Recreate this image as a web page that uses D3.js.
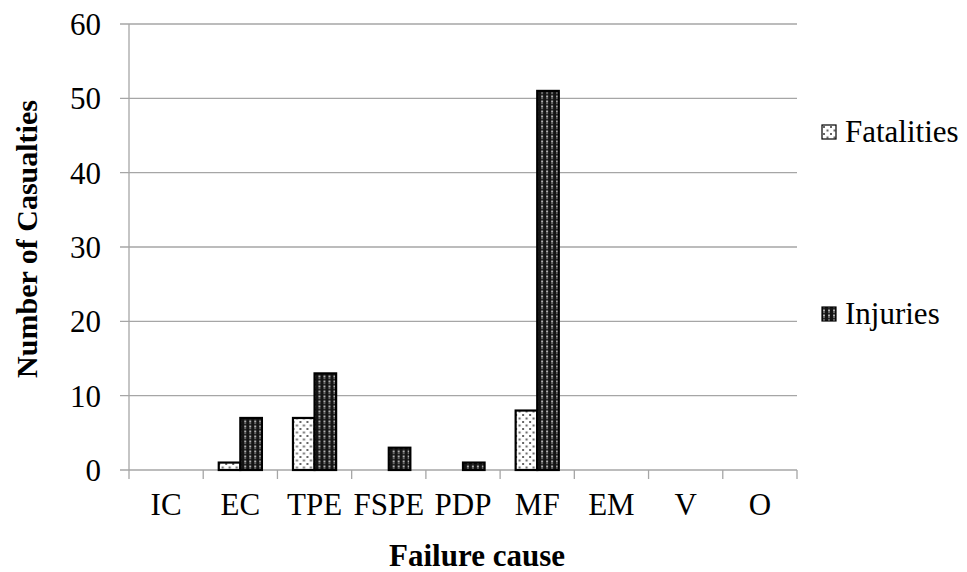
<!DOCTYPE html>
<html lang="en">
<head>
<meta charset="UTF-8">
<title>Casualties by failure cause</title>
<script src="https://d3js.org/d3.v7.min.js"></script>
<style>
    body { margin: 0; background: #fff; }
    svg text { font-family: "Liberation Serif", "Times New Roman", serif; fill: #000; }
    .tick-label { font-size: 31px; }
    .axis-title { font-weight: bold; }
    .grid { stroke: #a6a6a6; stroke-width: 1.3px; }
</style>
</head>
<body>
<svg width="967" height="572"></svg>
<script>
    const categories = ["IC", "EC", "TPE", "FSPE", "PDP", "MF", "EM", "V", "O"];
    const seriesNames = ["Fatalities", "Injuries"];
    const fatalities = [0, 1, 7, 0, 0, 8, 0, 0, 0];
    const injuries = [0, 7, 13, 3, 1, 51, 0, 0, 0];
    const yTicks = [0, 10, 20, 30, 40, 50, 60];

    const svg = d3.select("svg");
    const plotLeft = 129, plotRight = 797, plotTop = 24, plotBottom = 470;

    // patterns
    const defs = svg.append("defs");
    const pf = defs.append("pattern").attr("id", "pat-fat")
        .attr("patternUnits", "userSpaceOnUse").attr("width", 7).attr("height", 7);
    pf.append("rect").attr("width", 7).attr("height", 7).attr("fill", "#fff");
    pf.append("rect").attr("x", 1).attr("y", 1).attr("width", 2).attr("height", 2).attr("fill", "#666");
    pf.append("rect").attr("x", 4.5).attr("y", 4.5).attr("width", 2).attr("height", 2).attr("fill", "#666");

    const pi = defs.append("pattern").attr("id", "pat-inj")
        .attr("patternUnits", "userSpaceOnUse").attr("width", 5).attr("height", 5);
    pi.append("rect").attr("width", 5).attr("height", 5).attr("fill", "#141414");
    pi.append("rect").attr("x", 1).attr("y", 0.5).attr("width", 2).attr("height", 2).attr("fill", "#b0b0b0");
    pi.append("rect").attr("x", 1).attr("y", 3).attr("width", 2).attr("height", 1.2).attr("fill", "#666");

    const x0 = d3.scaleBand().domain(categories).range([plotLeft, plotRight]).padding(0);
    const x1 = d3.scaleBand().domain(seriesNames).range([0, x0.bandwidth()])
        .paddingInner(0).paddingOuter(0.72);
    const y = d3.scaleLinear().domain([0, 60]).range([plotBottom, plotTop]);

    // gridlines
    svg.append("g").selectAll("line").data(yTicks).join("line")
        .attr("class", "grid")
        .attr("x1", plotLeft - 9).attr("x2", plotRight)
        .attr("y1", d => y(d)).attr("y2", d => y(d));

    // y axis line
    svg.append("line").attr("class", "grid")
        .attr("x1", plotLeft).attr("x2", plotLeft).attr("y1", plotTop).attr("y2", plotBottom);

    // x axis ticks at band boundaries
    const bounds = categories.map(c => x0(c)).concat([plotRight]);
    svg.append("g").selectAll("line").data(bounds).join("line")
        .attr("class", "grid")
        .attr("x1", d => d).attr("x2", d => d)
        .attr("y1", plotBottom).attr("y2", plotBottom + 9);

    // y tick labels
    svg.append("g").selectAll("text").data(yTicks).join("text")
        .attr("class", "tick-label")
        .attr("x", 101).attr("y", d => y(d) + 11)
        .attr("text-anchor", "end")
        .text(d => d);

    // x tick labels
    svg.append("g").selectAll("text").data(categories).join("text")
        .attr("class", "tick-label")
        .attr("x", d => x0(d) + x0.bandwidth() / 2).attr("y", 515)
        .attr("text-anchor", "middle")
        .text(d => d);

    // bars
    const rows = categories.map((c, i) => ({ cat: c, Fatalities: fatalities[i], Injuries: injuries[i] }));
    const fills = { Fatalities: "url(#pat-fat)", Injuries: "url(#pat-inj)" };
    svg.append("g").selectAll("g").data(rows).join("g")
        .attr("transform", d => `translate(${x0(d.cat)},0)`)
        .selectAll("rect")
        .data(d => seriesNames.map(s => ({ s: s, v: d[s] })).filter(e => e.v > 0))
        .join("rect")
        .attr("x", d => x1(d.s))
        .attr("y", d => y(d.v))
        .attr("width", x1.bandwidth())
        .attr("height", d => y(0) - y(d.v))
        .attr("fill", d => fills[d.s])
        .attr("stroke", "#000")
        .attr("stroke-width", 2.2);

    // legend
    const legendY = [132, 314];
    const lg = svg.append("g").selectAll("g").data(seriesNames).join("g")
        .attr("transform", (d, i) => `translate(822,${legendY[i]})`);
    lg.append("rect").attr("x", 0).attr("y", -7).attr("width", 14).attr("height", 14)
        .attr("fill", d => fills[d]).attr("stroke", "#000").attr("stroke-width", 1.2);
    lg.append("text").attr("class", "tick-label").attr("x", 23).attr("y", 10).text(d => d);

    // axis titles
    svg.append("text").attr("class", "axis-title")
        .style("font-size", "31px")
        .attr("x", 477).attr("y", 566).attr("text-anchor", "middle")
        .text("Failure cause");
    svg.append("text").attr("class", "axis-title")
        .style("font-size", "30px")
        .attr("transform", "translate(37,239) rotate(-90)")
        .attr("text-anchor", "middle")
        .text("Number of Casualties");
</script>
</body>
</html>
